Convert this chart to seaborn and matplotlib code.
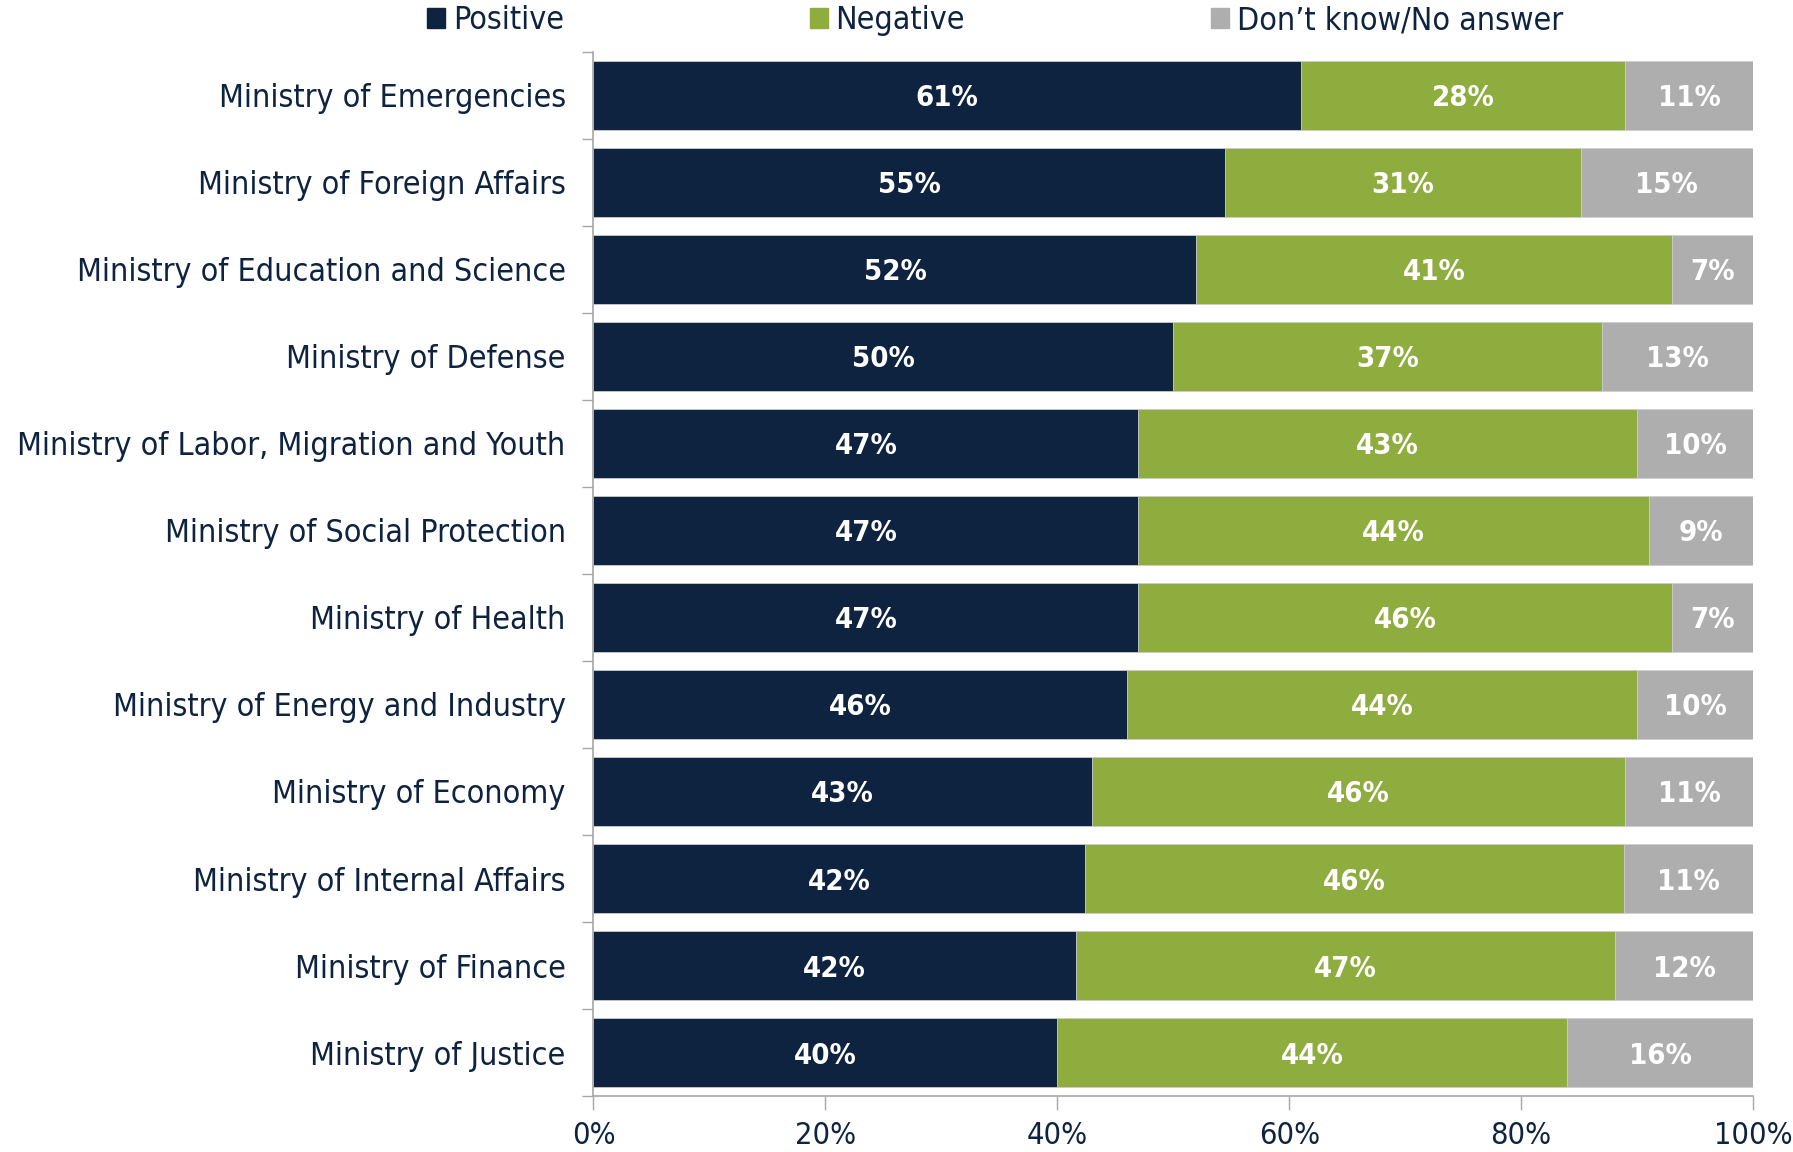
import seaborn as sns
import pandas as pd
import numpy as np
import matplotlib.pyplot as plt
from matplotlib.patches import Patch
from matplotlib.ticker import FixedLocator, PercentFormatter

ministries = ['Ministry of Emergencies', 'Ministry of Foreign Affairs', 'Ministry of Education and Science',
              'Ministry of Defense', 'Ministry of Labor, Migration and Youth', 'Ministry of Social Protection',
              'Ministry of Health', 'Ministry of Energy and Industry', 'Ministry of Economy',
              'Ministry of Internal Affairs', 'Ministry of Finance', 'Ministry of Justice']
positive = [61, 55, 52, 50, 47, 47, 47, 46, 43, 42, 42, 40]
negative = [28, 31, 41, 37, 43, 44, 46, 44, 46, 46, 47, 44]
dontknow = [11, 15, 7, 13, 10, 9, 7, 10, 11, 11, 12, 16]

navy = '#0e2340'
green = '#8fad3f'
grey = '#aeaeaf'
axis_grey = '#a6a6a6'

sns.set_style('white')
plt.rcParams['font.family'] = ['DejaVu Sans']
plt.rcParams['font.stretch'] = 'condensed'

df = pd.DataFrame({'ministry': ministries, 'pos': positive, 'neg': negative, 'dk': dontknow})
# bars are normalised to 100% (some rows add up to 99 or 101)
tot = df['pos'] + df['neg'] + df['dk']
df['c1'] = df['pos'] / tot * 100
df['c2'] = (df['pos'] + df['neg']) / tot * 100
df['c3'] = 100.0

fig = plt.figure(figsize=(17.93, 11.52), dpi=100)
ax = fig.add_axes([0.331, 0.0486, 0.6467, 0.9063])

for col, c in [('c3', grey), ('c2', green), ('c1', navy)]:
    sns.barplot(data=df, x=col, y='ministry', orient='h', color=c, width=0.79,
                saturation=1, ax=ax, edgecolor='#d0d0d0', linewidth=0.6)

for i, r in df.iterrows():
    for xc, v in [(r['c1'] / 2, r['pos']), ((r['c1'] + r['c2']) / 2, r['neg']), ((r['c2'] + 100) / 2, r['dk'])]:
        ax.text(xc, i, f"{v}%", ha='center', va='center_baseline', color='white',
                fontsize=21, fontweight='bold')

ax.set_xlim(0, 100)
ax.set_ylim(len(ministries) - 0.5, -0.5)
ax.set_xlabel('')
ax.set_ylabel('')
ax.xaxis.set_major_locator(FixedLocator([0, 20, 40, 60, 80, 100]))
ax.xaxis.set_major_formatter(PercentFormatter(decimals=0))
ax.yaxis.set_minor_locator(FixedLocator(np.arange(-0.5, len(ministries), 1)))
ax.tick_params(axis='x', which='major', length=10, width=1, color=axis_grey,
               labelsize=22, labelcolor=navy, pad=8, bottom=True)
ax.tick_params(axis='y', which='major', length=0, labelsize=23, labelcolor=navy, pad=20)
ax.tick_params(axis='y', which='minor', length=8, width=1, color=axis_grey, left=True)
for s in ['top', 'right']:
    ax.spines[s].set_visible(False)
for s in ['left', 'bottom']:
    ax.spines[s].set_color(axis_grey)
    ax.spines[s].set_linewidth(1.2)

handles = [Patch(color=navy, label='Positive'), Patch(color=green, label='Negative'),
           Patch(color=grey, label='Don\u2019t know/No answer')]
fig.legend(handles=handles, loc='center', bbox_to_anchor=(0.555, 0.982), ncol=3, frameon=False,
           fontsize=23, labelcolor=navy, handlelength=0.55, handleheight=0.55, handletextpad=0.25,
           columnspacing=7.7)

fig.savefig('out.png', dpi=100)
